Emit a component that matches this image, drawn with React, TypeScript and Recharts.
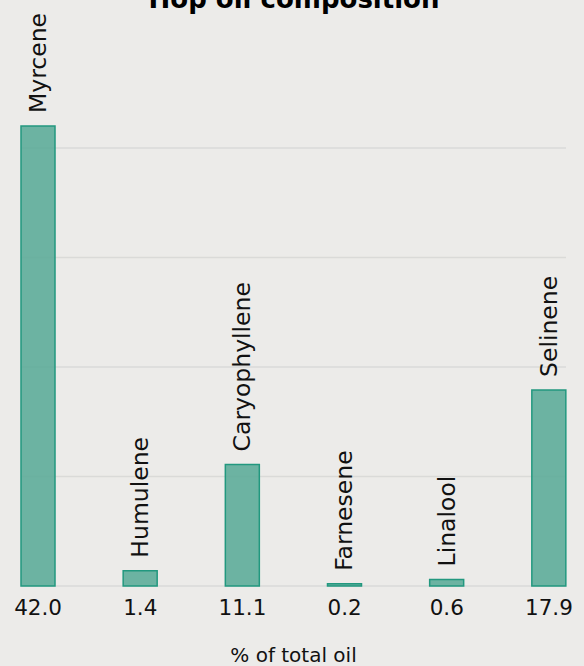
import { BarChart, Bar, XAxis, YAxis, CartesianGrid, LabelList, Label } from "recharts";

const compounds = ["Myrcene", "Humulene", "Caryophyllene", "Farnesene", "Linalool", "Selinene"];
const percentages = [42.0, 1.4, 11.1, 0.2, 0.6, 17.9];
const yTicks = [0, 10, 20, 30, 40];

const data = compounds.map((name, i) => ({
  name,
  value: percentages[i],
  label: percentages[i].toFixed(1),
}));

const FONT = "'DejaVu Sans', sans-serif";

function RotatedLabel(props: any) {
  const { x, y, width, value } = props;
  const cx = x + width / 2;
  const ty = y - 13;
  return (
    <text
      x={cx}
      y={ty}
      transform={`rotate(-90, ${cx}, ${ty})`}
      textAnchor="start"
      dominantBaseline="central"
      fontSize={23.5}
      fontFamily={FONT}
      fill="#111"
    >
      {value}
    </text>
  );
}

export default function App() {
  return (
    <div style={{ position: "absolute", left: 0, top: 0, width: 584, height: 666, background: "#ecebe9", overflow: "hidden" }}>
      <svg width={584} height={40} style={{ position: "absolute", left: 0, top: 0 }}>
        <text x={294} y={8} textAnchor="middle" fontSize={26} fontWeight="bold" fontFamily={FONT} fill="#000">
          Hop oil composition
        </text>
      </svg>
      <BarChart width={584} height={666} data={data} margin={{ top: 126, right: 18, bottom: 0, left: 21 }}>
        <CartesianGrid horizontal vertical={false} horizontalValues={yTicks} stroke="#dadad8" strokeWidth={1.5} />
        <XAxis
          dataKey="label"
          height={80}
          axisLine={false}
          tickLine={false}
          tickSize={6}
          tickMargin={8}
          padding={{ left: -34, right: -34 }}
          tick={{ fontSize: 21.5, fill: "#111", fontFamily: FONT }}
        >
          <Label value="% of total oil" position="insideBottom" offset={4} fontSize={20} fill="#111" fontFamily={FONT} />
        </XAxis>
        <YAxis hide domain={[0, "dataMax"]} ticks={yTicks} />
        <Bar dataKey="value" barSize={34} fill="#5aab97" fillOpacity={0.88} stroke="#22987f" strokeWidth={1.5} isAnimationActive={false}>
          <LabelList dataKey="name" content={RotatedLabel} />
        </Bar>
      </BarChart>
    </div>
  );
}
